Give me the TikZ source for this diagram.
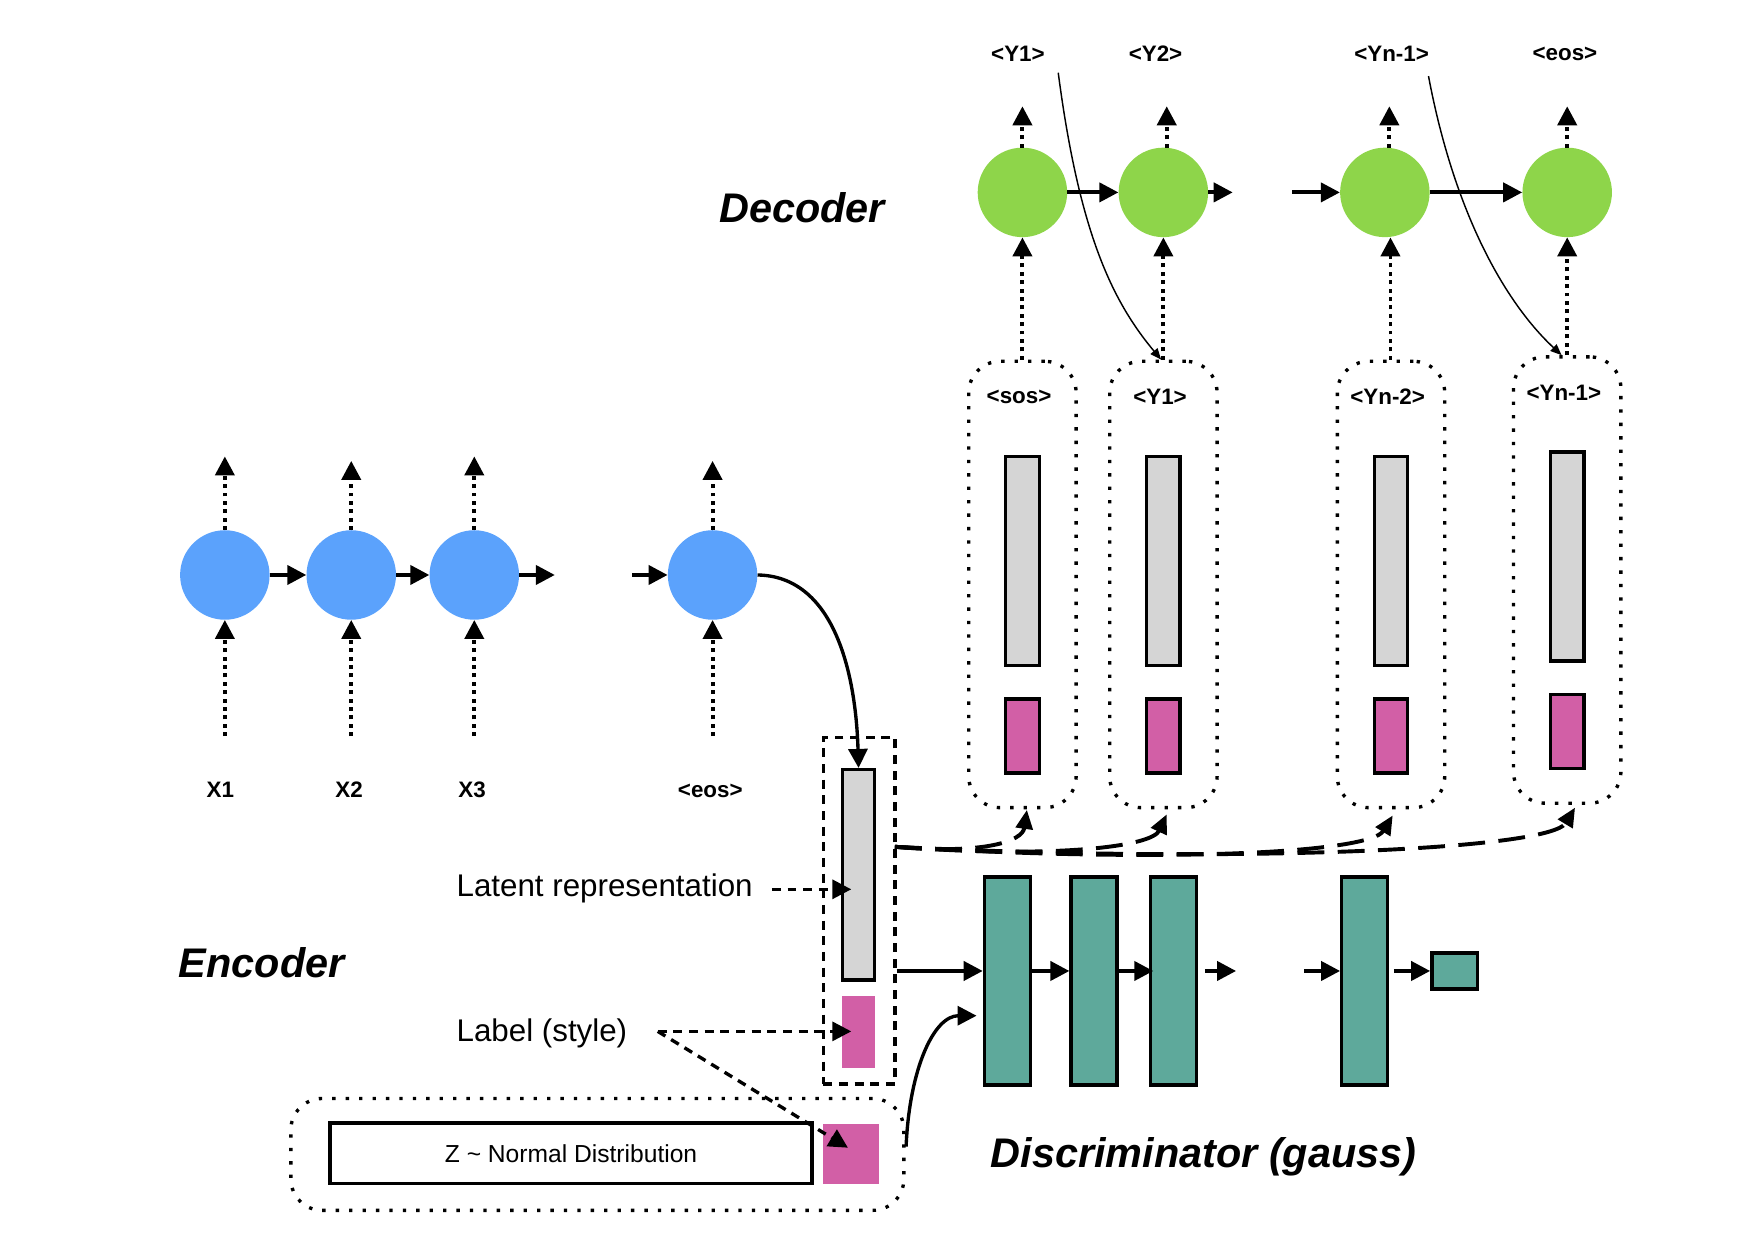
\documentclass[tikz,border=0pt]{standalone}
\usepackage{fontspec}
\setmainfont{Liberation Sans}
\usetikzlibrary{arrows.meta}
\definecolor{encblue}{RGB}{91,162,252}
\definecolor{decgreen}{RGB}{142,213,74}
\definecolor{discteal}{RGB}{94,169,155}
\definecolor{labpink}{RGB}{210,95,166}
\definecolor{latgray}{RGB}{213,213,213}
\begin{document}
\begin{tikzpicture}[x=1pt,y=-1pt,
  enc/.style={circle, fill=encblue, minimum size=80pt, inner sep=0pt},
  dec/.style={circle, fill=decgreen, minimum size=80pt, inner sep=0pt},
  arr/.style={-{Triangle[length=17pt,width=17pt]}, line width=3.5pt},
  dotarr/.style={arr, dash pattern=on 3.5pt off 4pt},
  dasharr/.style={arr, line width=3pt, dash pattern=on 8pt off 6pt},
  longdash/.style={-{Triangle[length=17pt,width=15pt]}, line width=3.5pt, dash pattern=on 24pt off 12pt},
  thinarr/.style={-{Triangle[length=10pt,width=8pt]}, line width=1.3pt},
  blk/.style={draw, line width=3pt, inner sep=0pt},
  dbox/.style={draw, line width=3pt, dash pattern=on 3pt off 9pt, rounded corners=28pt, inner sep=0pt},
  tok/.style={font=\bfseries\fontsize{20}{24}\selectfont},
  title/.style={font=\bfseries\itshape\fontsize{37}{44}\selectfont},
  lab/.style={font=\fontsize{28}{34}\selectfont, anchor=west, inner sep=0pt},
]
\useasboundingbox (0,0) rectangle (1568,1108);

% ---------------- Encoder ----------------
\node[enc] (e1) at (201,514) {};
\node[enc] (e2) at (314,514) {};
\node[enc] (e3) at (424,514) {};
\node[enc] (e4) at (637,514) {};
\foreach \i/\x/\t in {1/201/408,2/314/412,3/424/408,4/637/412}{
  \coordinate (eu\i) at (\x,\t);
  \coordinate (ed\i) at (\x,658);
  \draw[dotarr] (e\i.north) -- (eu\i);
  \draw[dotarr] (ed\i) -- (e\i.south);
}
\coordinate (eo) at (496,514);
\coordinate (ei) at (565,514);
\draw[arr] (e1.east) -- (e2.west);
\draw[arr] (e2.east) -- (e3.west);
\draw[arr] (e3.east) -- (eo);
\draw[arr] (ei) -- (e4.west);
\node[tok] (x1) at (197,706) {X1};
\node[tok] (x2) at (312,706) {X2};
\node[tok] (x3) at (422,706) {X3};
\node[tok] (x4) at (635,707) {<eos>};
\node[title] (enct) at (234,861) {Encoder};

% latent
\node[draw, line width=3pt, dash pattern=on 8pt off 6pt, minimum width=64pt, minimum height=310pt, inner sep=0pt] (lat) at (768,814) {};
\node[blk, fill=latgray, minimum width=29pt, minimum height=188pt] (lg) at (767.5,782) {};
\node[fill=labpink, minimum width=30pt, minimum height=65pt, inner sep=0pt] (lp) at (767.5,922.5) {};
\draw[arr, line width=3pt] (e4.east) .. controls (745,515) and (765,600) .. (lg.north);

\node[lab] (lt) at (408,794) {Latent representation};
\node[lab] (ls) at (408,924) {Label (style)};
\coordinate (lta) at (690,795);
\coordinate (ltb) at (761,795);
\coordinate (lsa) at (588,922);
\coordinate (lsb) at (761,922);
\draw[dasharr] (lta) -- (ltb);
\draw[dasharr] (lsa) -- (lsb);

% Z box
\node[dbox, minimum width=548pt, minimum height=100pt] (zb) at (534,1032) {};
\node[blk, minimum width=431pt, minimum height=54pt, font=\fontsize{22}{26}\selectfont] (zn) at (510.5,1031) {Z \textasciitilde{} Normal Distribution};
\node[fill=labpink, minimum width=50pt, minimum height=53pt, inner sep=0pt] (zp) at (761,1031.5) {};
\coordinate (zpt) at (758,1026);
\draw[dasharr] (lsa) -- (zpt);

% ---------------- Discriminator ----------------
\node[blk, fill=discteal, minimum width=41pt, minimum height=186pt] (d1) at (900.5,877) {};
\node[blk, fill=discteal, minimum width=41pt, minimum height=186pt] (d2) at (978,877) {};
\node[blk, fill=discteal, minimum width=41pt, minimum height=186pt] (d3) at (1049,877) {};
\node[blk, fill=discteal, minimum width=41pt, minimum height=186pt] (d4) at (1220,877) {};
\node[blk, fill=discteal, minimum width=41pt, minimum height=32pt] (ds) at (1300.5,868) {};
\coordinate (yd) at (0,868);
\coordinate (do) at (1105,868);
\coordinate (di) at (1166,868);
\draw[arr] (lat.east |- yd) -- (d1.west |- yd);
\draw[arr] (d1.east |- yd) -- (d2.west |- yd);
\draw[arr] (d2.east |- yd) -- ([xshift=4pt]d3.west |- yd);
\draw[arr] ([xshift=6pt]d3.east |- yd) -- (do);
\draw[arr] (di) -- (d4.west |- yd);
\draw[arr] ([xshift=4pt]d4.east |- yd) -- (ds.west);
\coordinate (zs) at (810,1025);
\coordinate (dz) at (873,908);
\draw[arr, line width=3pt] (zs) .. controls (813,955) and (835,908) .. (dz);
\node[title] (dist) at (1076,1034) {Discriminator (gauss)};

% ---------------- Decoder ----------------
\node[dec] (g1) at (914,172) {};
\node[dec] (g2) at (1040,172) {};
\node[dec] (g3) at (1238,172) {};
\node[dec] (g4) at (1401,172) {};
\foreach \i/\x in {1/914,2/1043,3/1242,4/1401}{
  \coordinate (gu\i) at (\x,95);
  \draw[dotarr] (\x,132) -- (gu\i);
}
\node[tok] (y1) at (910,48) {<Y1>};
\node[tok] (y2) at (1033,48) {<Y2>};
\node[tok] (y3) at (1244,48) {<Yn-1>};
\node[tok] (y4) at (1399,48) {<eos>};
\coordinate (go) at (1102,172);
\coordinate (gi) at (1155,172);
\draw[arr] (g1.east) -- (g2.west);
\draw[arr] (g2.east) -- (go);
\draw[arr] (gi) -- (g3.west);
\draw[arr] (g3.east) -- (g4.west);
\node[title] (dect) at (717,186) {Decoder};

% decoder input boxes
\foreach \i/\x/\y/\t in {1/914/522.5/<sos>,2/1040/522.5/<Y1>,3/1243.5/522.5/<Yn-2>,4/1401/518.5/<Yn-1>}{
  \node[dbox, minimum width=96pt, minimum height=399pt] (b\i) at (\x,\y) {};
  \node[tok] (bt\i) at (\x-3,\y-167.5) {\t};
  \node[blk, fill=latgray, minimum width=30pt, minimum height=187pt] (bg\i) at (\x,\y-21) {};
  \node[blk, fill=labpink, minimum width=30pt, minimum height=66pt] (bp\i) at (\x,\y+135.5) {};
}
\draw[dotarr] (b1.north) -- (g1.south);
\draw[dotarr] (b2.north) -- (g2.south);
\draw[dotarr] ([xshift=-0.5pt]b3.north) -- ([xshift=5pt]g3.south);
\draw[dotarr] (b4.north) -- (g4.south);

% thin feedback curves
\coordinate (f1) at (946,65);
\coordinate (f2) at (1277,68);
\draw[thinarr] (f1) .. controls (965,210) and (995,270) .. ([xshift=-2pt]b2.north);
\draw[thinarr] (f2) .. controls (1300,190) and (1345,270) .. ([xshift=-5pt]b4.north);

% latent to decoder inputs
\coordinate (ls0) at (800,757);
\coordinate (t1) at (918,724);
\coordinate (t2) at (1043,728);
\coordinate (t3) at (1245,729);
\coordinate (t4) at (1408,722);
\draw[longdash] (ls0) .. controls (880,764) and (914,752) .. (t1);
\draw[longdash] (ls0) .. controls (950,768) and (1030,756) .. (t2);
\draw[longdash] (ls0) .. controls (1050,772) and (1225,762) .. (t3);
\draw[longdash] (ls0) .. controls (1100,772) and (1385,760) .. (t4);
\end{tikzpicture}
\end{document}
